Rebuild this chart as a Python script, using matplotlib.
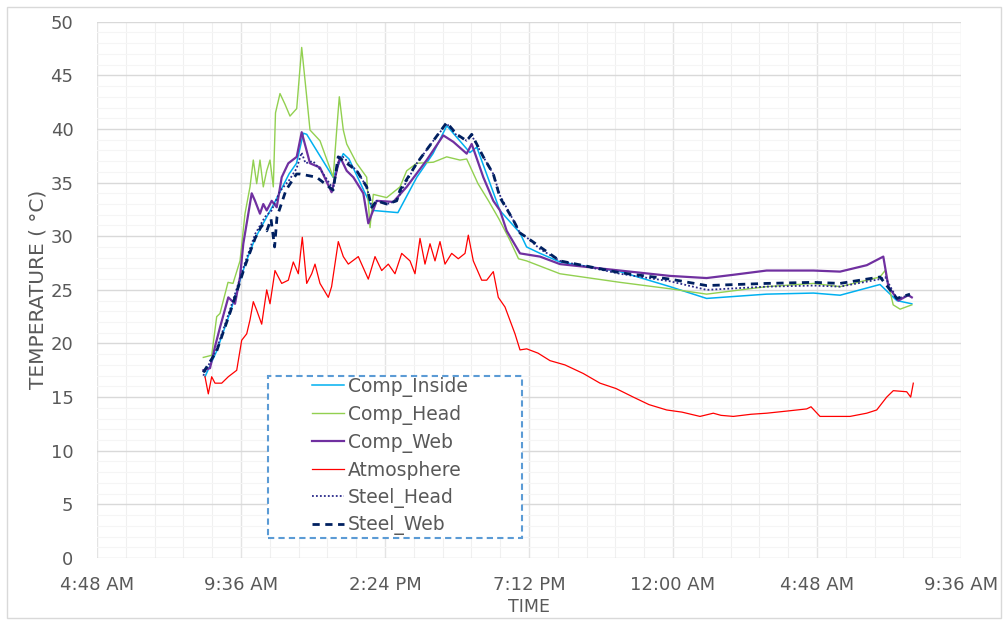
import matplotlib
matplotlib.use("Agg")
import matplotlib.pyplot as plt
from matplotlib.patches import Rectangle
from matplotlib.ticker import MultipleLocator, FixedLocator

# ---- data (time in hours from midnight of day 1; temperatures in degC) ----
x_ticks = [4.8, 9.6, 14.4, 19.2, 24.0, 28.8, 33.6]
x_labels = ["4:48 AM", "9:36 AM", "2:24 PM", "7:12 PM", "12:00 AM", "4:48 AM", "9:36 AM"]

t_inside = [8.40, 8.79, 9.25, 9.73, 10.07, 10.73, 11.2, 11.45, 11.68, 11.79, 12.67, 13.01, 13.2,
            14.01, 14.83, 15.46, 16.0, 16.46, 17.23, 17.46, 18.23, 18.9, 19.12, 19.57, 20.23,
            22.23, 23.9, 25.12, 27.12, 28.68, 29.57, 30.9, 31.46, 31.96]
comp_inside = [16.9, 19.3, 23.0, 27.3, 29.8, 33.2, 35.8, 36.8, 39.6, 39.5, 35.5, 37.7, 37.2,
               32.4, 32.2, 35.5, 37.7, 40.3, 37.8, 38.3, 32.4, 30.3, 29.0, 28.4, 27.6,
               26.7, 25.3, 24.2, 24.6, 24.7, 24.5, 25.5, 24.0, 23.7]

t_head = [8.343, 8.623, 8.79, 8.9, 9.167, 9.333, 9.567, 9.733, 9.9, 10.01, 10.123, 10.233, 10.343,
          10.457, 10.567, 10.677, 10.75, 10.9, 11.067, 11.233, 11.457, 11.623, 11.79, 11.9, 12.233,
          12.673, 12.79, 12.877, 13.01, 13.123, 13.457, 13.79, 13.9, 14.01, 14.457, 14.9, 15.123,
          15.457, 16.01, 16.457, 16.9, 17.123, 17.5, 17.85, 18.2, 18.567, 18.85, 19.12, 20.233,
          22.233, 23.9, 25.12, 27.12, 28.68, 29.57, 30.9, 31.07, 31.34, 31.57, 31.96]
comp_head = [18.7, 18.9, 22.5, 22.8, 25.7, 25.6, 27.7, 32.1, 34.6, 37.1, 34.9, 37.1, 34.6,
             36.1, 37.1, 34.6, 41.5, 43.3, 42.3, 41.2, 41.9, 47.6, 43.0, 39.9, 38.9,
             35.5, 39.9, 43.0, 39.9, 38.6, 36.8, 35.5, 30.8, 33.9, 33.6, 34.6, 36.1,
             36.8, 36.9, 37.4, 37.1, 37.2, 34.9, 33.3, 31.6, 29.6, 27.9, 27.7, 26.5,
             25.7, 25.1, 24.6, 25.3, 25.6, 25.3, 26.2, 26.8, 23.6, 23.2, 23.6]

t_web = [8.343, 8.567, 8.733, 8.9, 9.177, 9.4, 9.567, 9.677, 9.79, 9.957, 10.067, 10.233, 10.343,
         10.457, 10.623, 10.79, 10.957, 11.177, 11.457, 11.623, 11.9, 12.233, 12.62, 12.9, 13.123,
         13.343, 13.677, 13.843, 14.123, 14.677, 15.123, 15.79, 16.343, 16.677, 17.123, 17.29,
         17.677, 18.01, 18.233, 18.457, 18.9, 19.567, 20.233, 22.233, 23.9, 25.12, 26.0, 27.12,
         28.68, 29.57, 30.46, 31.01, 31.18, 31.51, 31.84, 31.96]
comp_web = [17.5, 17.7, 19.7, 21.5, 24.3, 23.7, 26.2, 29.3, 31.2, 34.0, 33.3, 32.1, 33.0,
            32.4, 33.3, 32.7, 35.5, 36.8, 37.4, 39.7, 36.8, 36.4, 34.1, 37.4, 36.1,
            35.5, 34.0, 31.2, 33.3, 33.2, 34.6, 37.1, 39.4, 38.8, 37.7, 38.6,
            35.5, 33.3, 32.4, 30.5, 28.4, 28.1, 27.4, 26.8, 26.3, 26.1, 26.4, 26.8,
            26.8, 26.7, 27.3, 28.1, 25.3, 24.0, 24.5, 24.3]

t_atm = [8.40, 8.51, 8.623, 8.733, 8.957, 9.177, 9.457, 9.623, 9.79, 9.9, 10.01, 10.123, 10.29,
         10.457, 10.567, 10.733, 10.957, 11.177, 11.343, 11.51, 11.643, 11.79, 11.957, 12.067,
         12.233, 12.51, 12.62, 12.843, 13.01, 13.177, 13.51, 13.843, 14.067, 14.29, 14.51, 14.733,
         14.957, 15.233, 15.4, 15.567, 15.733, 15.9, 16.067, 16.233, 16.4, 16.623, 16.843, 17.067,
         17.177, 17.343, 17.623, 17.79, 18.01, 18.177, 18.4, 18.733, 18.9, 19.123, 19.5, 19.9,
         20.4, 21.01, 21.567, 22.1, 22.677, 23.2, 23.79, 24.3, 24.9, 25.343, 25.6, 26.01, 26.6,
         27.123, 27.8, 28.457, 28.6, 28.9, 29.4, 29.9, 30.457, 30.79, 31.123, 31.343, 31.79,
         31.923, 32.01]
atmosphere = [16.9, 15.3, 16.9, 16.3, 16.3, 16.9, 17.5, 20.3, 20.9, 22.2, 23.9, 23.1, 21.8,
              25.0, 23.7, 26.8, 25.6, 25.9, 27.6, 26.5, 29.9, 25.6, 26.5, 27.4,
              25.6, 24.3, 25.3, 29.5, 28.1, 27.4, 28.1, 26.0, 28.1, 26.8, 27.4, 26.5,
              28.4, 27.7, 26.5, 29.8, 27.4, 29.3, 27.7, 29.5, 27.4, 28.4, 27.9, 28.4,
              30.1, 27.7, 25.9, 25.9, 26.7, 24.3, 23.4, 20.9, 19.4, 19.5, 19.1, 18.4,
              18.0, 17.2, 16.3, 15.8, 15.0, 14.3, 13.8, 13.6, 13.2, 13.5, 13.3, 13.2, 13.4,
              13.5, 13.7, 13.9, 14.1, 13.2, 13.2, 13.2, 13.5, 13.8, 15.0, 15.6, 15.5,
              15.0, 16.3]

t_shead = [8.343, 8.79, 9.25, 9.73, 10.07, 10.4, 10.62, 10.9, 11.2, 11.45, 11.62, 11.75, 12.0,
           12.3, 12.673, 12.85, 13.0, 13.46, 13.79, 13.96, 14.12, 14.46, 14.79, 15.0, 15.46,
           16.01, 16.457, 16.79, 17.123, 17.29, 17.677, 18.01, 18.233, 18.677, 18.9, 19.12,
           19.57, 20.23, 22.23, 23.9, 25.12, 27.12, 28.68, 29.57, 30.9, 31.07, 31.46, 31.9]
steel_head = [17.0, 19.5, 23.3, 27.5, 30.2, 31.8, 32.4, 34.2, 35.2, 36.3, 37.8, 36.8, 37.0,
              36.0, 34.4, 37.0, 37.4, 36.1, 34.6, 32.7, 33.3, 33.0, 33.3, 34.5, 36.8,
              38.9, 40.5, 39.4, 38.9, 39.4, 37.4, 35.8, 33.8, 31.5, 30.3, 29.9,
              28.8, 27.7, 26.5, 25.8, 25.0, 25.3, 25.4, 25.3, 26.0, 26.2, 24.2, 24.5]

t_sweb = [8.343, 8.79, 9.25, 9.73, 10.07, 10.29, 10.46, 10.6, 10.72, 10.8, 11.1, 11.45, 11.57,
          12.12, 12.67, 12.84, 13.46, 13.79, 13.96, 14.12, 14.46, 14.79, 14.9, 15.46, 16.01,
          16.457, 16.79, 17.123, 17.29, 17.677, 18.01, 18.233, 18.677, 18.9, 19.12, 19.57,
          20.23, 22.23, 23.9, 25.12, 27.12, 28.68, 29.57, 30.9, 31.46, 31.9]
steel_web = [17.3, 19.3, 23.0, 27.2, 29.8, 31.0, 30.5, 31.6, 29.0, 31.8, 34.3, 35.8, 35.8,
             35.5, 34.3, 37.4, 36.1, 34.6, 32.7, 33.3, 33.0, 33.3, 34.3, 36.8, 38.9,
             40.6, 39.5, 38.9, 39.5, 37.4, 35.8, 33.6, 31.5, 30.3, 29.9, 29.0,
             27.7, 26.6, 26.0, 25.4, 25.6, 25.7, 25.6, 26.2, 24.2, 24.6]

# ---- figure ----
W, H = 1008, 622
fig = plt.figure(figsize=(W / 100, H / 100), dpi=100)
ax = fig.add_axes([97 / W, 1 - 558 / H, (961 - 97) / W, (558 - 21.7) / H])

txt = "#595959"
ax.set_xlim(4.8, 33.6)
ax.set_ylim(0, 50)
ax.xaxis.set_major_locator(FixedLocator(x_ticks))
ax.set_xticklabels(x_labels)
ax.xaxis.set_minor_locator(MultipleLocator(0.96))
ax.yaxis.set_major_locator(MultipleLocator(5))
ax.yaxis.set_minor_locator(MultipleLocator(1))
ax.grid(which="major", axis="y", color="#d9d9d9", lw=1.0)
ax.grid(which="minor", axis="y", color="#f5f5f5", lw=0.8)
ax.grid(which="major", axis="x", color="#e4e4e4", lw=1.0)
ax.grid(which="minor", axis="x", color="#f0f0f0", lw=0.8)
ax.set_axisbelow(True)
for s in ax.spines.values():
    s.set_visible(False)
ax.tick_params(which="both", length=0)
ax.tick_params(axis="y", pad=17, labelsize=13, labelcolor=txt)
ax.tick_params(axis="x", pad=13, labelsize=13, labelcolor=txt)

ax.plot(t_inside, comp_inside, color="#00b0f0", lw=1.1, label="Comp_Inside")
ax.plot(t_head, comp_head, color="#92d050", lw=1.0, label="Comp_Head")
ax.plot(t_web, comp_web, color="#7030a0", lw=1.6, label="Comp_Web")
ax.plot(t_atm, atmosphere, color="#ff0000", lw=0.9, label="Atmosphere")
ax.plot(t_shead, steel_head, color="#2a2a8a", lw=1.3, ls=(0, (1, 1.2)), label="Steel_Head")
ax.plot(t_sweb, steel_web, color="#002060", lw=2.0, ls=(0, (2.6, 2.0)), label="Steel_Web")

ax.set_xlabel("TIME", fontsize=12.5, color=txt, labelpad=3)
ax.set_ylabel("TEMPERATURE ( °C)", fontsize=14.5, color=txt, labelpad=2)

# legend with dashed frame
fig.patches.append(Rectangle((268 / W, 1 - 538 / H), (522 - 268) / W, (538 - 376) / H,
                             transform=fig.transFigure, fill=True, facecolor="white",
                             edgecolor="#5b9bd5", lw=1.5, ls=(0, (3, 2)), zorder=5))
leg = fig.legend(loc="upper left", bbox_to_anchor=(312 / W, 1 - 377 / H), frameon=False,
                 fontsize=13.5, handlelength=1.7, handletextpad=0.2, labelspacing=0.42,
                 borderpad=0, borderaxespad=0)
leg.set_zorder(6)
for t in leg.get_texts():
    t.set_color(txt)

fig.patches.append(Rectangle((7 / W, 4 / H), (1001 - 7) / W, (615 - 4) / H,
                             transform=fig.transFigure, fill=False, edgecolor="#d9d9d9", lw=1))

fig.savefig("out.png", dpi=100)
